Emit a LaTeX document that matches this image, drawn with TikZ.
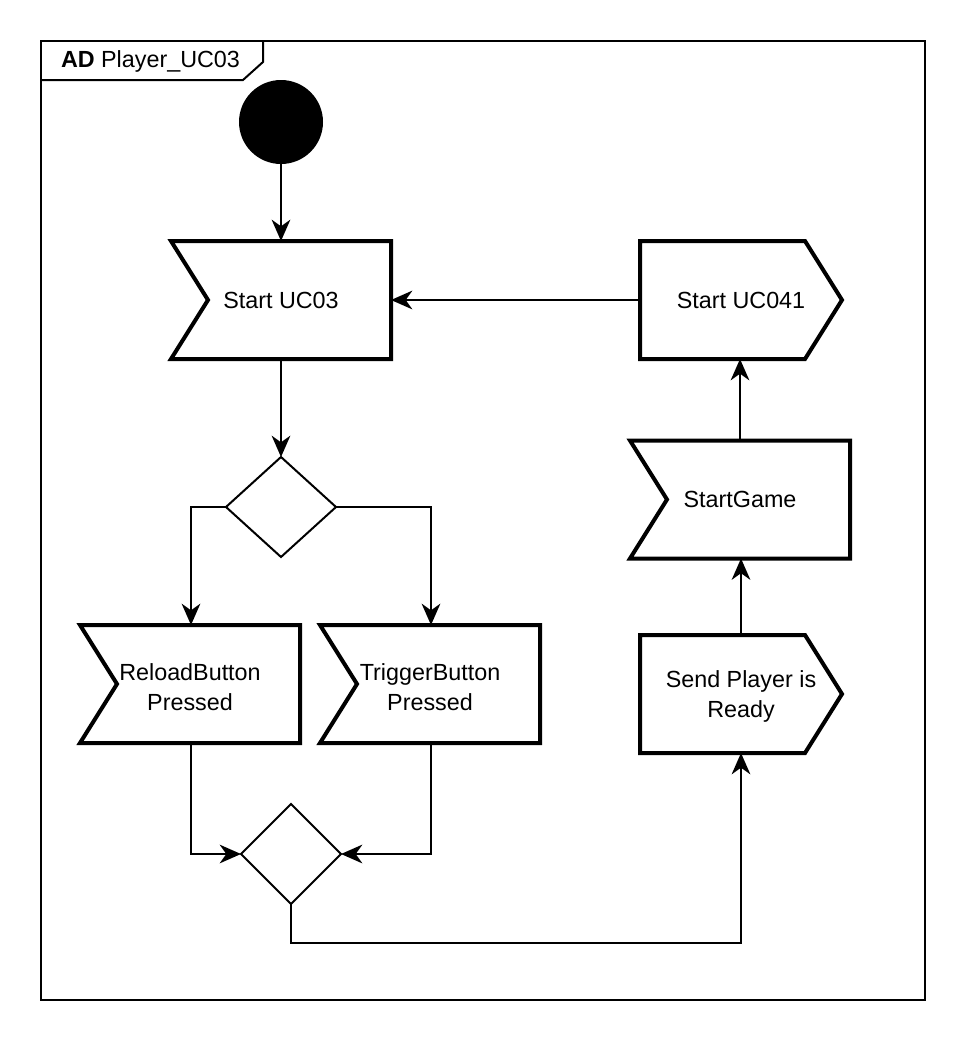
\documentclass[tikz,border=0pt]{standalone}
\usepackage{fontspec}
\setmainfont{Liberation Sans}
\usetikzlibrary{arrows.meta,shapes.geometric}
\begin{document}
\begin{tikzpicture}[x=0.75pt,y=-0.75pt,
  every node/.style={font=\fontsize{17.5}{22.5}\selectfont, align=center, inner sep=0pt, outer sep=0pt},
  sigbox/.style={minimum width=#1*0.75pt, minimum height=118*0.75pt},
  sigline/.style={draw=black, line width=3pt, line join=miter, fill=white},
  framestyle/.style={draw=black, line width=1.5pt},
  decision/.style={diamond, draw=black, line width=1.5pt, fill=white, minimum width=#1*0.75pt, minimum height=100*0.75pt},
  conn/.style={draw=black, line width=1.5pt, -{Stealth[length=16pt,width=14pt,inset=5pt]}},
  plain/.style={draw=black, line width=1.5pt}
]
\useasboundingbox (0,0) rectangle (966,1042);
\fill[white] (0,0) rectangle (966,1042);

% frame
\node[framestyle, minimum width=884*0.75pt, minimum height=959*0.75pt] (frame) at (483,520.5) {};
\draw[framestyle] (41,80) -- (243,80) -- (263,62) -- (263,41);
\node[anchor=west] (title) at (61,61) {\textbf{AD} Player\_UC03};

% initial node
\node[circle, fill=black, minimum size=84*0.75pt] (init) at (281,122) {};

% signals
\node[sigbox=220] (uc03) at (281,300) {};
\draw[sigline] (uc03.north west) -- (uc03.north east) -- (uc03.south east) -- (uc03.south west) -- ([xshift=27.75pt]uc03.west) -- cycle;
\node at (uc03) {Start UC03};

\node[sigbox=202] (uc041) at (741,300) {};
\draw[sigline] (uc041.north west) -- ([xshift=-27.75pt]uc041.north east) -- (uc041.east) -- ([xshift=-27.75pt]uc041.south east) -- (uc041.south west) -- cycle;
\node at (uc041) {Start UC041};

\node[sigbox=220] (game) at (740,499.5) {};
\draw[sigline] (game.north west) -- (game.north east) -- (game.south east) -- (game.south west) -- ([xshift=27.75pt]game.west) -- cycle;
\node at (game) {StartGame};

\node[sigbox=202] (ready) at (741,694) {};
\draw[sigline] (ready.north west) -- ([xshift=-27.75pt]ready.north east) -- (ready.east) -- ([xshift=-27.75pt]ready.south east) -- (ready.south west) -- cycle;
\node at ([yshift=-2pt]ready.center) {Send Player is\\Ready};

\node[sigbox=220] (reload) at (190,684) {};
\draw[sigline] (reload.north west) -- (reload.north east) -- (reload.south east) -- (reload.south west) -- ([xshift=27.75pt]reload.west) -- cycle;
\node at ([yshift=-2pt]reload.center) {ReloadButton\\Pressed};

\node[sigbox=220] (trigger) at (430,684) {};
\draw[sigline] (trigger.north west) -- (trigger.north east) -- (trigger.south east) -- (trigger.south west) -- ([xshift=27.75pt]trigger.west) -- cycle;
\node at ([yshift=-2pt]trigger.center) {TriggerButton\\Pressed};

% decisions
\node[decision=110] (dec) at (281,507) {};
\node[decision=100] (merge) at (291,854) {};
\coordinate (mb) at (291,943);

% connectors
\draw[conn] (init.south) -- (uc03.north);
\draw[conn] (uc041.west) -- (uc03.east);
\draw[conn] (game.north) -- (game.north |- uc041.south);
\draw[conn] (ready.north) -- (ready.north |- game.south);
\draw[conn] (uc03.south) -- (dec.north);
\draw[conn] (dec.west) -| ([xshift=0.75pt]reload.north);
\draw[conn] (dec.east) -| ([xshift=0.75pt]trigger.north);
\draw[conn] ([xshift=0.75pt]reload.south) |- (merge.west);
\draw[conn] ([xshift=0.75pt]trigger.south) |- (merge.east);
\draw[conn] (merge.south) -- (mb) -| (ready.south);
\end{tikzpicture}
\end{document}
